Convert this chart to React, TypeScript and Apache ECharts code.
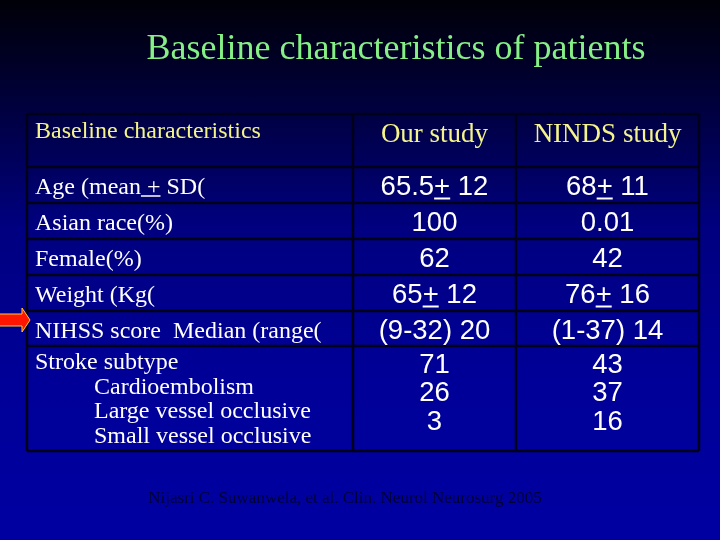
import React, { useEffect, useRef } from "react";
import * as echarts from "echarts";

const title = "Baseline characteristics of patients";
const headers = ["Baseline characteristics", "Our study", "NINDS study"];
const rowLabels: string[][] = [
  ["Age (mean + SD("],
  ["Asian race(%)"],
  ["Female(%)"],
  ["Weight (Kg("],
  ["NIHSS score  Median (range("],
  ["Stroke subtype", "Cardioembolism", "Large vessel occlusive", "Small vessel occlusive"],
];
const ourStudy: string[][] = [["65.5+ 12"], ["100"], ["62"], ["65+ 12"], ["(9-32) 20"], ["71", "26", "3"]];
const nindsStudy: string[][] = [["68+ 11"], ["0.01"], ["42"], ["76+ 16"], ["(1-37) 14"], ["43", "37", "16"]];
const footnote = "Nijasri C. Suwanwela, et al. Clin. Neurol Neurosurg 2005";

const SERIF = '"Liberation Serif", "Times New Roman", serif';
const SANS = '"Liberation Sans", Arial, sans-serif';

function measure(text: string, font: string): number {
  const c = document.createElement("canvas");
  const ctx = c.getContext("2d")!;
  ctx.font = font;
  return ctx.measureText(text).width;
}

export default function App() {
  const ref = useRef<HTMLDivElement>(null);
  useEffect(() => {
    document.body.style.margin = "0";
    const chart = echarts.init(ref.current!, null, { renderer: "svg" });
    const colX = [27, 353, 516, 699];
    const rowY = [114, 167, 203, 239, 275, 311, 346, 451];
    const border = "#00001a";
    const labelFs = 24;
    const valFs = 27.5;
    const hdrFs = 27;
    const els: any[] = [];

    // background
    els.push({
      type: "rect",
      shape: { x: 0, y: 0, width: 720, height: 540 },
      style: {
        fill: new echarts.graphic.LinearGradient(0, 0, 0, 1, [
          { offset: 0, color: "#000008" },
          { offset: 0.12, color: "#000028" },
          { offset: 0.25, color: "#00004e" },
          { offset: 0.42, color: "#000080" },
          { offset: 0.7, color: "#000098" },
          { offset: 1, color: "#0000a2" },
        ]),
      },
      silent: true,
    });

    // title
    els.push({
      type: "text",
      x: 396,
      y: 47,
      style: {
        text: title,
        fill: "#86f086",
        font: `36px ${SERIF}`,
        textAlign: "center",
        textVerticalAlign: "middle",
      },
    });

    // table grid
    for (const y of rowY) {
      els.push({ type: "line", shape: { x1: colX[0], y1: y, x2: colX[3], y2: y }, style: { stroke: border, lineWidth: 2.5 } });
    }
    for (const x of colX) {
      els.push({ type: "line", shape: { x1: x, y1: rowY[0], x2: x, y2: rowY[rowY.length - 1] }, style: { stroke: border, lineWidth: 2.5 } });
    }

    // headers
    els.push({
      type: "text",
      x: 35,
      y: 130,
      style: { text: headers[0], fill: "#f4f48a", font: `${labelFs}px ${SERIF}`, textAlign: "left", textVerticalAlign: "middle" },
    });
    els.push({
      type: "text",
      x: (colX[1] + colX[2]) / 2,
      y: 133,
      style: { text: headers[1], fill: "#f4f48a", font: `${hdrFs}px ${SERIF}`, textAlign: "center", textVerticalAlign: "middle" },
    });
    els.push({
      type: "text",
      x: (colX[2] + colX[3]) / 2,
      y: 133,
      style: { text: headers[2], fill: "#f4f48a", font: `${hdrFs}px ${SERIF}`, textAlign: "center", textVerticalAlign: "middle" },
    });

    const labelFont = `${labelFs}px ${SERIF}`;
    const valFont = `${valFs}px ${SANS}`;

    rowLabels.forEach((lines, r) => {
      const top = rowY[r + 1];
      const bottom = rowY[r + 2];
      const single = lines.length === 1;
      lines.forEach((t, i) => {
        const cy = single ? (top + bottom) / 2 + 1 : top + 15 + i * 24.7;
        const x = i === 0 ? 35 : 94;
        els.push({
          type: "text",
          x,
          y: cy,
          style: { text: t, fill: "#ffffff", font: labelFont, textAlign: "left", textVerticalAlign: "middle" },
        });
        const pi = t.indexOf(" +");
        if (pi >= 0) {
          const x1 = x + measure(t.slice(0, pi), labelFont);
          const x2 = x + measure(t.slice(0, pi + 2), labelFont);
          els.push({ type: "line", shape: { x1, y1: cy + 10, x2, y2: cy + 10 }, style: { stroke: "#ffffff", lineWidth: 1.5 } });
        }
      });
    });

    const drawValues = (vals: string[][], c: number) => {
      const cx = (colX[c] + colX[c + 1]) / 2;
      vals.forEach((lines, r) => {
        const top = rowY[r + 1];
        const bottom = rowY[r + 2];
        const single = lines.length === 1;
        lines.forEach((t, i) => {
          const cy = single ? (top + bottom) / 2 + 0.5 : top + 17 + i * 28.5;
          els.push({
            type: "text",
            x: cx,
            y: cy,
            style: { text: t, fill: "#ffffff", font: valFont, textAlign: "center", textVerticalAlign: "middle" },
          });
          const pi = t.indexOf("+");
          if (pi >= 0) {
            const w = measure(t, valFont);
            const left = cx - w / 2;
            const x1 = left + measure(t.slice(0, pi), valFont);
            const x2 = left + measure(t.slice(0, pi + 1), valFont);
            els.push({ type: "line", shape: { x1, y1: cy + 13, x2, y2: cy + 13 }, style: { stroke: "#ffffff", lineWidth: 2 } });
          }
        });
      });
    };
    drawValues(ourStudy, 1);
    drawValues(nindsStudy, 2);

    // arrow
    els.push({
      type: "polygon",
      shape: {
        points: [
          [-2, 314],
          [22, 314],
          [22, 308],
          [30, 320],
          [22, 332],
          [22, 326],
          [-2, 326],
        ],
      },
      style: { fill: "#ff1500", stroke: "#ffcc33", lineWidth: 1 },
    });

    // footnote
    els.push({
      type: "text",
      x: 345,
      y: 497,
      style: { text: footnote, fill: "#000036", font: `17px ${SERIF}`, textAlign: "center", textVerticalAlign: "middle" },
    });

    chart.setOption({ animation: false, graphic: { elements: els } });
    return () => chart.dispose();
  }, []);
  return <div ref={ref} style={{ position: "fixed", left: 0, top: 0, width: 720, height: 540 }} />;
}
